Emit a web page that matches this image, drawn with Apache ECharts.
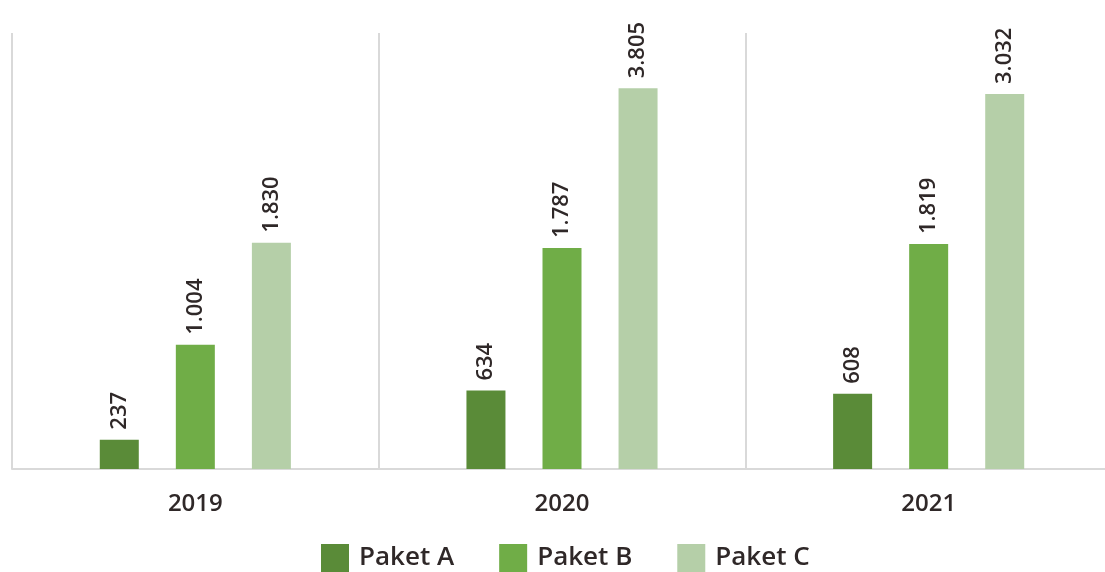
<!DOCTYPE html>
<html>
<head>
<meta charset="utf-8">
<script src="https://cdn.jsdelivr.net/npm/echarts@6/dist/echarts.min.js"></script>
<style>
  html, body { margin: 0; padding: 0; background: #fff; }
  #chart { width: 1105px; height: 572px; }
</style>
</head>
<body>
<div id="chart"></div>
<script>
const years = ['2019', '2020', '2021'];
const seriesNames = ['Paket A', 'Paket B', 'Paket C'];

// bar heights as drawn in the picture
const paketA = [237, 634, 608];
const paketB = [1004, 1787, 1819];
const paketC = [1830, 3078, 3032]; // 2020 bar is drawn shorter than its printed label

// printed labels above the bars
const labelsA = ['237', '634', '608'];
const labelsB = ['1.004', '1.787', '1.819'];
const labelsC = ['1.830', '3.805', '3.032'];

const colors = ['#5a8b38', '#70ad47', '#b5cfa8'];
const textColor = '#2f2828';
const fontFamily = '"Open Sans", "Noto Sans", sans-serif';

const chart = echarts.init(document.getElementById('chart'), null, { renderer: 'canvas' });

function makeSeries(name, data, labels, color) {
    return {
        name: name,
        type: 'bar',
        data: data,
        barWidth: 39,
        barGap: '95%',
        itemStyle: { color: color },
        label: {
            show: true,
            position: 'top',
            rotate: 90,
            align: 'left',
            verticalAlign: 'middle',
            distance: 10,
            color: textColor,
            fontSize: 22,
            fontWeight: 600,
            fontFamily: fontFamily,
            formatter: (p) => labels[p.dataIndex]
        }
    };
}

chart.setOption({
    animation: false,
    color: colors,
    grid: {
        left: 12, width: 1100, top: 33, bottom: 103,
        containLabel: false,
        outerBoundsMode: 'none'
    },
    legend: {
        data: seriesNames,
        top: 544,
        left: 321,
        padding: 0,
        itemWidth: 28,
        itemHeight: 28,
        itemGap: 45,
        icon: 'rect',
        textStyle: {
            fontSize: 26,
            fontWeight: 600,
            color: textColor,
            fontFamily: fontFamily,
            padding: [6, 0, 0, 5]
        }
    },
    xAxis: {
        type: 'category',
        data: years,
        axisLine: { lineStyle: { color: '#d9d9d9', width: 2 } },
        axisTick: { show: false },
        splitLine: { show: true, interval: 0, lineStyle: { color: '#d9d9d9', width: 2 } },
        axisLabel: { fontSize: 24, fontWeight: 600, color: textColor, margin: 23, fontFamily: fontFamily }
    },
    yAxis: {
        type: 'value',
        min: 0,
        max: 3525,
        show: false,
        splitLine: { show: false }
    },
    series: [
        makeSeries(seriesNames[0], paketA, labelsA, colors[0]),
        makeSeries(seriesNames[1], paketB, labelsB, colors[1]),
        makeSeries(seriesNames[2], paketC, labelsC, colors[2])
    ]
});

window.addEventListener('resize', () => chart.resize());
</script>
</body>
</html>
